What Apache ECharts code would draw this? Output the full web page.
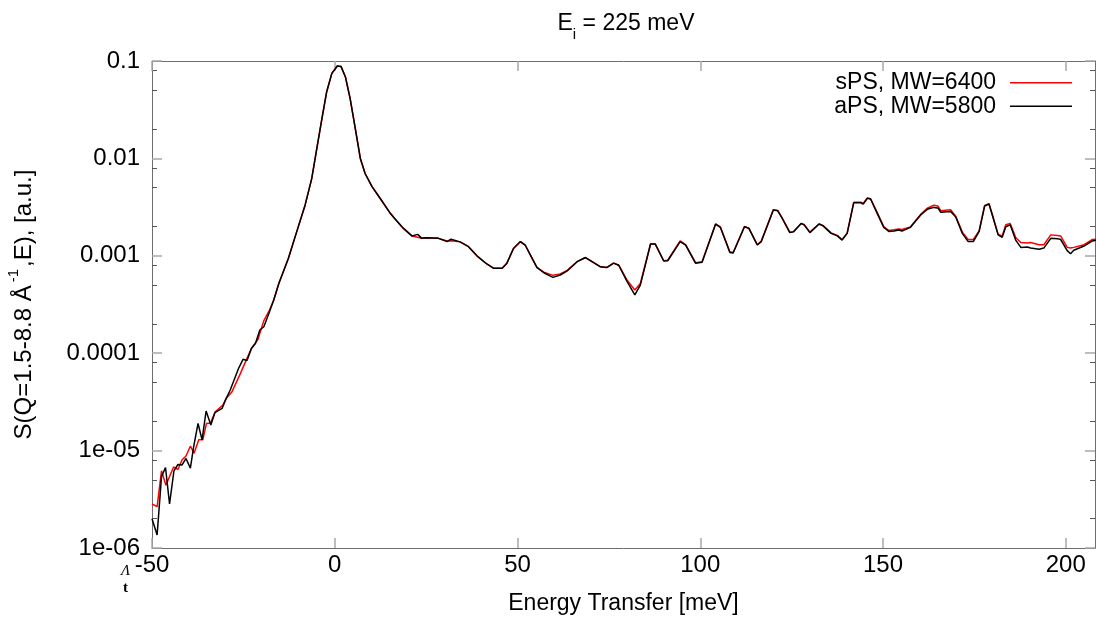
<!DOCTYPE html>
<html>
<head>
<meta charset="utf-8">
<script src="https://cdn.jsdelivr.net/npm/echarts@6/dist/echarts.min.js"></script>
<style>html,body{margin:0;padding:0;background:#fff}#c{width:1096px;height:619px}</style>
</head>
<body>
<div id="c"></div>
<script>
// ---- data ----
const E_left_sPS = [-50,-48.6,-47.4,-46.2,-44.1,-42.9,-41.8,-40.7,-39.5,-38.5,-37.2,-36.1,-35.1,-34,-32.7,-30.6,-29.7,-28.1,-25.8,-24.4,-22.8,-21,-19.4,-18,-16.7,-15.3];
const S_left_sPS = [2.83e-6,2.66e-6,6.2e-6,4.4e-6,6.8e-6,6.4e-6,8.0e-6,8.8e-6,1.11e-5,9.4e-6,1.29e-5,1.29e-5,1.9e-5,1.92e-5,2.5e-5,2.94e-5,3.44e-5,4.03e-5,6.2e-5,8.2e-5,1.12e-4,1.39e-4,2.16e-4,2.7e-4,3.5e-4,5.2e-4];

const E_left_aPS = [-50,-48.6,-47.4,-46.3,-45.2,-44,-42.9,-41.8,-40.7,-39.5,-38.6,-37.4,-36.3,-35.2,-33.9,-32.8,-30.8,-29.9,-28.6,-26.3,-25.1,-24,-22.8,-21.7,-20.5,-19.4,-18,-16.7,-15.3];
const S_left_aPS = [2.0e-6,1.36e-6,5.4e-6,6.7e-6,2.83e-6,6.2e-6,7.2e-6,7.1e-6,8.3e-6,6.6e-6,1.1e-5,1.9e-5,1.29e-5,2.55e-5,1.83e-5,2.45e-5,2.72e-5,3.3e-5,4.19e-5,7.0e-5,8.65e-5,8.4e-5,1.12e-4,1.26e-4,1.73e-4,1.87e-4,2.57e-4,3.52e-4,5.2e-4];

const E_main = [-12.7,-10.4,-8.1,-6.3,-4.9,-3.5,-2.2,-0.8,0.7,1.7,
 2.9,4.2,5.6,7.0,8.3,10.2,12.4,15.2,16.5,18.8,
 21.1,22.7,23.8,25.0,28.4,30.7,31.8,34.3,36.6,38.9,
 41.6,43.5,45.8,47.1,48.9,50.8,52.1,54,55.3,57.2,
 59.7,61.7,63.6,66.3,68.6,70.4,72.7,74.5,76.3,77.7,
 80.0,82.1,83.6,86.4,87.7,90,91.1,94.5,96,98.7,
 100.5,104.2,105.5,108.1,109,112.1,113.3,115.6,116.7,120,
 121.2,122.4,124.5,125.5,127.6,128.4,130,132.5,133.6,135.8,
 137.5,138.8,140.2,142,143.9,144.6,145.7,146.6,148.4,150.2,
 151.6,153,154.3,155.2,157.5,160.3,162.1,163.9,165,165.8,
 168.5,169.9,171.7,173.3,174.7,176.3,177.8,179,179.9,181.5,
 182.6,183.6,184.8,186.3,187.7,189.5,190.4,192.7,194,195.9,
 197.7,198.6,200.4,201.3,202.2,205,207.3,208.4];

const S_main_sPS = [9.4e-4,1.77e-3,3.33e-3,6.2e-3,0.0127,0.0258,0.0484,0.0747,0.0889,0.088,
 0.069,0.0414,0.0204,0.010,7.0e-3,5.13e-3,3.9e-3,2.73e-3,2.39e-3,1.91e-3,
 1.6e-3,1.55e-3,1.51e-3,1.53e-3,1.51e-3,1.42e-3,1.43e-3,1.39e-3,1.24e-3,1.0e-3,
 8.24e-4,7.43e-4,7.43e-4,8.4e-4,1.19e-3,1.4e-3,1.29e-3,9.4e-4,7.6e-4,6.8e-4,
 6.3e-4,6.5e-4,7.1e-4,8.7e-4,9.6e-4,8.7e-4,7.7e-4,7.6e-4,8.4e-4,8.0e-4,
 5.6e-4,4.46e-4,5.2e-4,1.32e-3,1.32e-3,8.9e-4,9.0e-4,1.42e-3,1.3e-3,8.5e-4,
 8.7e-4,2.12e-3,1.98e-3,1.1e-3,1.08e-3,2.0e-3,1.92e-3,1.3e-3,1.42e-3,2.98e-3,
 2.92e-3,2.45e-3,1.75e-3,1.78e-3,2.15e-3,2.1e-3,1.75e-3,2.12e-3,2.05e-3,1.72e-3,
 1.62e-3,1.47e-3,1.72e-3,3.55e-3,3.55e-3,3.45e-3,3.92e-3,3.85e-3,2.8e-3,2.0e-3,
 1.82e-3,1.85e-3,1.88e-3,1.86e-3,1.98e-3,2.66e-3,3.08e-3,3.3e-3,3.25e-3,2.9e-3,
 2.97e-3,2.55e-3,1.75e-3,1.47e-3,1.47e-3,1.8e-3,3.28e-3,3.42e-3,2.65e-3,1.66e-3,
 1.6e-3,2.08e-3,2.15e-3,1.54e-3,1.37e-3,1.35e-3,1.37e-3,1.3e-3,1.3e-3,1.64e-3,
 1.62e-3,1.6e-3,1.22e-3,1.2e-3,1.22e-3,1.3e-3,1.47e-3,1.48e-3];

const S_main_aPS = [9.4e-4,1.77e-3,3.33e-3,6.2e-3,0.0127,0.0258,0.0484,0.0747,0.0889,0.088,
 0.069,0.0414,0.0204,0.010,7.0e-3,5.13e-3,3.9e-3,2.73e-3,2.39e-3,1.91e-3,
 1.6e-3,1.66e-3,1.51e-3,1.53e-3,1.51e-3,1.4e-3,1.48e-3,1.39e-3,1.24e-3,1.0e-3,
 8.24e-4,7.43e-4,7.43e-4,8.4e-4,1.19e-3,1.4e-3,1.29e-3,9.4e-4,7.6e-4,6.7e-4,
 6.0e-4,6.35e-4,7.0e-4,8.7e-4,9.6e-4,8.7e-4,7.7e-4,7.6e-4,8.4e-4,8.0e-4,
 5.42e-4,3.96e-4,5.0e-4,1.32e-3,1.32e-3,8.85e-4,8.9e-4,1.4e-3,1.29e-3,8.4e-4,
 8.6e-4,2.12e-3,1.96e-3,1.08e-3,1.07e-3,1.99e-3,1.91e-3,1.29e-3,1.4e-3,2.95e-3,
 2.9e-3,2.43e-3,1.73e-3,1.76e-3,2.15e-3,2.08e-3,1.73e-3,2.12e-3,2.03e-3,1.7e-3,
 1.6e-3,1.45e-3,1.7e-3,3.51e-3,3.5e-3,3.4e-3,3.89e-3,3.83e-3,2.73e-3,1.96e-3,
 1.78e-3,1.8e-3,1.84e-3,1.8e-3,1.96e-3,2.62e-3,3.0e-3,3.14e-3,3.1e-3,2.8e-3,
 2.85e-3,2.5e-3,1.7e-3,1.4e-3,1.4e-3,1.78e-3,3.24e-3,3.4e-3,2.62e-3,1.64e-3,
 1.55e-3,1.99e-3,2.08e-3,1.45e-3,1.22e-3,1.23e-3,1.2e-3,1.17e-3,1.2e-3,1.51e-3,
 1.5e-3,1.47e-3,1.13e-3,1.05e-3,1.14e-3,1.26e-3,1.42e-3,1.45e-3];

const seriesNames = ['sPS, MW=6400', 'aPS, MW=5800'];
const xTicks = [-50, 0, 50, 100, 150, 200];
const yTicks = [1e-6, 1e-5, 1e-4, 1e-3, 1e-2, 1e-1];
const yTickLabels = ['1e-06', '1e-05', '0.0001', '0.001', '0.01', '0.1'];

// ---- build ----
const zip = (xs, ys) => xs.map((x, i) => [x, ys[i]]);
const dataS = zip(E_left_sPS.concat(E_main), S_left_sPS.concat(S_main_sPS));
const dataA = zip(E_left_aPS.concat(E_main), S_left_aPS.concat(S_main_aPS));

const yMinor = [];
for (let k = -6; k < -1; k++) { [2, 5, 8].forEach(m => yMinor.push(m * Math.pow(10, k))); }

const FONT = 'Liberation Sans';
const labelFor = v => {
  const i = Math.round(Math.log10(v)) + 6;
  return yTickLabels[i] !== undefined ? yTickLabels[i] : '';
};

const frameLine = { show: true, onZero: false, lineStyle: { color: '#6e6e6e', width: 1 } };
const noLine = { show: false, onZero: false };
const majorTickY = { inside: true, length: 10, customValues: yTicks, lineStyle: { color: '#a8a8a8', width: 1.5 } };
const minorTickY = { inside: true, length: 5, customValues: yMinor, lineStyle: { color: '#555', width: 1 } };
const majorTickX = { inside: true, length: 10, customValues: xTicks, lineStyle: { color: '#a8a8a8', width: 1.5 } };

const baseY = {
  type: 'log', logBase: 10, min: 1e-6, max: 0.1,
  splitLine: { show: false }, minorSplitLine: { show: false }
};

const chart = echarts.init(document.getElementById('c'), null, { renderer: 'canvas' });
chart.setOption({
  animation: false,
  backgroundColor: '#fff',
  title: {
    text: '{a|E}{b|i}{a| = 225 meV}',
    left: 621, top: 7, textAlign: 'center',
    textStyle: {
      fontWeight: 'normal',
      rich: {
        a: { fontFamily: FONT, fontSize: 23, fontWeight: 'normal', color: '#000', lineHeight: 30, verticalAlign: 'top' },
        b: { fontFamily: FONT, fontSize: 15, fontWeight: 'normal', color: '#000', lineHeight: 14, verticalAlign: 'bottom' }
      }
    }
  },
  legend: {
    data: seriesNames,
    orient: 'vertical', right: 19, top: 66,
    align: 'right', icon: 'rect',
    itemWidth: 62, itemHeight: 1.5, itemGap: 0,
    textStyle: { fontFamily: FONT, fontSize: 23, color: '#000', lineHeight: 23.5, padding: [0, 9, 0, 0] }
  },
  grid: { left: 152, right: 1, top: 61, bottom: 71, containLabel: false, outerBoundsMode: 'none' },
  xAxis: [
    {
      type: 'value', min: -50, max: 208, position: 'bottom',
      name: 'Energy Transfer [meV]', nameLocation: 'middle', nameGap: 44,
      nameTextStyle: { fontFamily: FONT, fontSize: 23, color: '#000' },
      axisLine: frameLine, axisTick: majorTickX,
      axisLabel: { customValues: xTicks, fontFamily: FONT, fontSize: 24, color: '#000', margin: 5 },
      splitLine: { show: false }
    },
    {
      type: 'value', min: -50, max: 208, position: 'top',
      axisLine: frameLine, axisTick: majorTickX,
      axisLabel: { show: false }, splitLine: { show: false }
    }
  ],
  yAxis: [
    Object.assign({}, baseY, {
      position: 'left',
      name: '{a|S(Q=1.5-8.8 Å}{s|-1}{a|,E), [a.u.]}',
      nameLocation: 'middle', nameGap: 116, nameRotate: 90,
      nameTextStyle: {
        rich: {
          a: { fontFamily: FONT, fontSize: 24, color: '#000', lineHeight: 30, verticalAlign: 'bottom' },
          s: { fontFamily: FONT, fontSize: 15, color: '#000', lineHeight: 14, verticalAlign: 'top', padding: [0, 2, 0, 3] }
        }
      },
      axisLine: frameLine, axisTick: majorTickY,
      axisLabel: { customValues: yTicks, formatter: labelFor, fontFamily: FONT, fontSize: 24, color: '#000', margin: 12 }
    }),
    Object.assign({}, baseY, { position: 'left', axisLine: noLine, axisTick: minorTickY, axisLabel: { show: false } }),
    Object.assign({}, baseY, { position: 'right', axisLine: frameLine, axisTick: majorTickY, axisLabel: { show: false } }),
    Object.assign({}, baseY, { position: 'right', axisLine: noLine, axisTick: minorTickY, axisLabel: { show: false } })
  ],
  graphic: [
    { type: 'text', left: 121, top: 564, style: { text: 'Λ', font: 'italic 15px "Liberation Serif"', fill: '#000' } },
    { type: 'text', left: 123, top: 581, style: { text: 't', font: 'bold 15px "Liberation Serif"', fill: '#000' } }
  ],
  series: [
    {
      name: seriesNames[0], type: 'line', xAxisIndex: 0, yAxisIndex: 0,
      data: dataS, showSymbol: false, symbol: 'none', clip: true,
      lineStyle: { color: '#ff0000', width: 1.5 }, itemStyle: { color: '#ff0000' }
    },
    {
      name: seriesNames[1], type: 'line', xAxisIndex: 0, yAxisIndex: 0,
      data: dataA, showSymbol: false, symbol: 'none', clip: true,
      lineStyle: { color: '#000000', width: 1.5 }, itemStyle: { color: '#000000' }
    }
  ]
});
</script>
</body>
</html>
